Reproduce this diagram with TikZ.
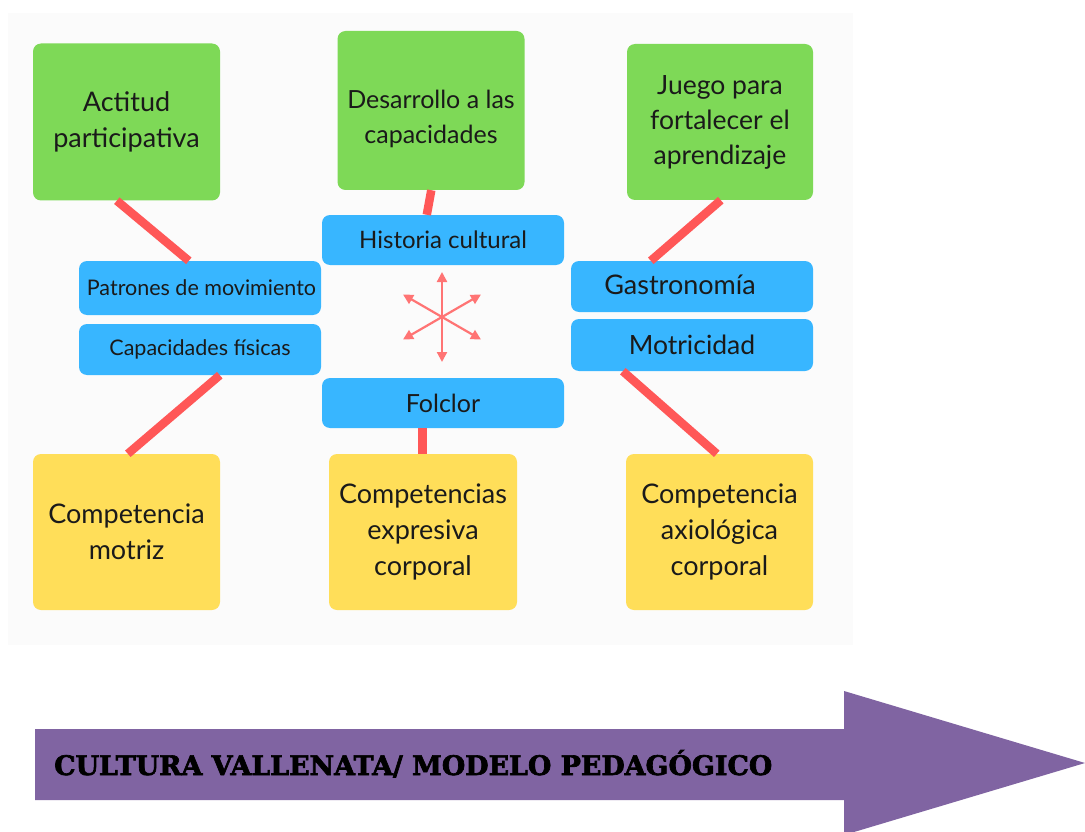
\documentclass[tikz,border=0pt]{standalone}
\usepackage{fontspec}
\setmainfont{Lato}
\newfontfamily\arrowfont[BoldFeatures={FakeBold=2.5}]{DejaVu Serif}
\usetikzlibrary{arrows.meta,calc}
\definecolor{grn}{HTML}{7ED957}
\definecolor{blu}{HTML}{38B6FF}
\definecolor{ylw}{HTML}{FFDE59}
\definecolor{lnk}{HTML}{FF5757}
\definecolor{starc}{HTML}{FF7474}
\definecolor{prp}{HTML}{8064A2}
\definecolor{panel}{HTML}{FBFBFB}
\definecolor{txt}{HTML}{1A1A1A}
\tikzset{
  card/.style={rounded corners=8pt, inner sep=0pt, align=center, text=txt},
  bigcard/.style={card, minimum width=187pt, minimum height=157pt, font=\fontsize{27}{36}\selectfont},
  greencard/.style={bigcard, fill=grn},
  yellowcard/.style={bigcard, fill=ylw},
  bluecard/.style={card, fill=blu, minimum width=242pt, minimum height=51pt},
  lbl/.style={inner sep=0pt, align=center, text=txt},
  link/.style={draw=lnk, line width=8.5pt},
  ray/.style={draw=starc, line width=2.2pt, -{Triangle[length=10pt,width=10pt]}}
}
\begin{document}
\begin{tikzpicture}[x=1pt,y=-1pt]
\useasboundingbox (0,0) rectangle (1085,832);
\fill[white] (0,0) rectangle (1085,832);
\fill[panel] (8,13) rectangle (853,645);
% green cards
\node[greencard] (act) at (126.5,122) {Actitud\\participativa};
\node[greencard, minimum height=159pt] (des) at (431,110.5) {};
\node[lbl, font=\fontsize{25}{35}\selectfont] (desT) at (431,119) {Desarrollo a las\\capacidades};
\node[greencard, minimum width=186pt, minimum height=156pt, font=\fontsize{26.5}{35}\selectfont] (jue) at (720,122) {Juego para\\fortalecer el\\aprendizaje};
% blue cards
\node[bluecard, minimum height=50pt, font=\fontsize{24}{26}\selectfont] (his) at (443,240) {Historia cultural};
\node[bluecard, minimum height=54pt, font=\fontsize{21.5}{24}\selectfont] (pat) at (200,288) {\hspace*{3pt}Patrones de movimiento};
\node[bluecard, font=\fontsize{21.5}{24}\selectfont] (cap) at (200,349.5) {Capacidades físicas};
\node[bluecard] (gas) at (692,286.5) {};
\node[lbl, font=\fontsize{27}{30}\selectfont] (gasT) at (680,285) {Gastronomía};
\node[bluecard, minimum height=52pt, font=\fontsize{26.5}{30}\selectfont] (mot) at (692,345) {Motricidad};
\node[bluecard, minimum height=50pt, font=\fontsize{25}{28}\selectfont] (fol) at (443,403) {Folclor};
% yellow cards
\node[yellowcard, minimum height=156pt] (cm) at (126.5,532) {Competencia\\motriz};
\node[yellowcard, minimum width=188pt, minimum height=156pt] (ce) at (423,532) {Competencias\\expresiva\\corporal};
\node[yellowcard, minimum height=156pt] (ca) at (719.5,532) {Competencia\\axiológica\\corporal};
% links
\draw[link] ($(act.south west)+(84,0)$) -- ($(pat.north west)+(110,0)$);
\draw[link] ($(des.south west)+(94,0)$) -- ($(his.north west)+(105,0)$);
\draw[link] ($(jue.south west)+(94,0)$) -- ($(gas.north west)+(80,0)$);
\draw[link] ($(cap.south west)+(141,0)$) -- ($(cm.north west)+(95,0)$);
\draw[link] ($(fol.south west)+(100.5,0)$) -- ($(ce.north west)+(93.5,0)$);
\draw[link] ($(mot.south west)+(52,0)$) -- ($(ca.north west)+(91,0)$);
% star
\coordinate (hub) at (442,317);
\foreach \a in {90,30,150,210,270,330}{
  \draw[ray] (hub) -- ++(\a:-45);
}
% big arrow
\fill[prp] (35,729) -- (844,729) -- (844,691) -- (1085,763) -- (844,835) -- (844,800) -- (35,800) -- cycle;
\node[anchor=base west, inner sep=0pt] (title) at (54,775)
  {\resizebox{718pt}{!}{\arrowfont\bfseries CULTURA VALLENATA/ MODELO PEDAGÓGICO}};
\end{tikzpicture}
\end{document}
